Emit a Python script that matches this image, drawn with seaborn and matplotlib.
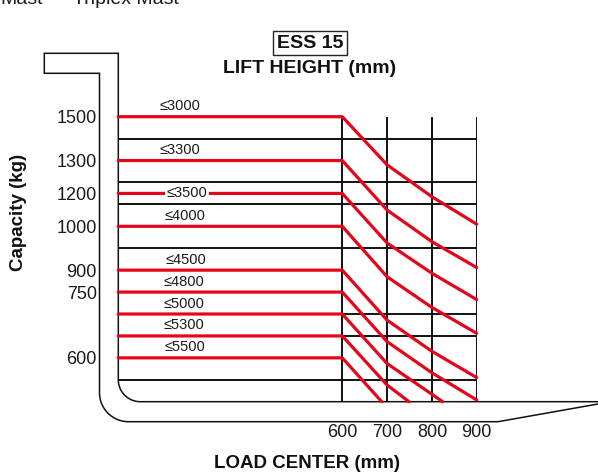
import numpy as np
import pandas as pd
import matplotlib.pyplot as plt
import seaborn as sns

# lift height bands, one red line each
lift_heights = ['≤3000', '≤3300', '≤3500', '≤4000', '≤4500', '≤4800', '≤5000', '≤5300', '≤5500']

# load center (mm) and capacity (kg) of every line
curve_x = [
    [100, 600, 700, 800, 900],
    [100, 600, 700, 800, 900],
    [100, 600, 700, 800, 900],
    [100, 600, 700, 800, 900],
    [100, 600, 700, 800, 900],
    [100, 600, 700, 800, 900],
    [100, 600, 700, 800, 824],
    [100, 600, 700, 749],
    [100, 600, 688],
]
curve_y = [
    [1500, 1500, 1287, 1180, 1013],
    [1300, 1300, 1099, 965, 906],
    [1200, 1200, 962, 879, 733],
    [1000, 1000, 855, 715, 656],
    [900, 900, 686, 615, 555],
    [750, 750, 637, 566, 504],
    [700, 700, 587, 517, 500],
    [650, 650, 538, 500],
    [600, 600, 500],
]

cap_ticks = [1500, 1300, 1200, 1000, 900, 750, 600]
x_ticks = [600, 700, 800, 900]

# the capacity axis of the diagram is uneven: grid row where each capacity sits
scale_caps = [0, 500, 600, 750, 900, 1000, 1200, 1300, 1500, 3500]
scale_rows = [23, 13, 11, 8, 7, 5, 3.5, 2, 0, -20]

RED = '#e3061a'

# long form table for seaborn
rows = []
for name, xs, ys in zip(lift_heights, curve_x, curve_y):
    for x, y in zip(xs, ys):
        rows.append({'lift': name, 'load_center': x, 'capacity': y})
df = pd.DataFrame(rows)

sns.set_theme(style='white')
plt.rcParams['font.family'] = ['Liberation Sans', 'DejaVu Sans']

W, H = 598, 474
fig = plt.figure(figsize=(W / 100, H / 100), dpi=100)
fig.patch.set_facecolor('white')

# pixel box of the grid
gx0, gx1, gy0, gy1 = 118.3, 476.7, 116.7, 401.7
ax = fig.add_axes([gx0 / W, 1 - gy1 / H, (gx1 - gx0) / W, (gy1 - gy0) / H])
ax.set_facecolor('none')

sns.lineplot(data=df, x='load_center', y='capacity', hue='lift', palette=[RED] * len(lift_heights),
             sort=False, estimator=None, legend=False, lw=2.3, ax=ax, zorder=3)
for line in ax.lines:
    line.set_clip_on(False)

rows_inc = scale_rows[::-1]
caps_dec = scale_caps[::-1]


def fwd(c):
    return -np.interp(np.asarray(c, float), scale_caps, scale_rows)


def inv(v):
    return np.interp(-np.asarray(v, float), rows_inc, caps_dec)


ax.set_yscale('function', functions=(fwd, inv))
ax.set_xlim(100, 900)
ax.set_ylim(500, 1500)

ax.set_xticks(x_ticks)
ax.set_yticks(cap_ticks)
ax.set_yticks(np.interp(np.arange(13), rows_inc, caps_dec), minor=True)
ax.set_yticklabels([str(c) for c in cap_ticks])
ax.yaxis.set_minor_formatter(plt.NullFormatter())
ax.tick_params(which='both', length=0)
ax.tick_params(axis='y', pad=15.5, labelsize=13, labelcolor='#1a1a1a')
ax.tick_params(axis='x', pad=16, labelsize=13, labelcolor='#1a1a1a')
ax.grid(False)
ax.grid(axis='y', which='minor', color='#111111', lw=1.4)
ax.grid(axis='x', which='major', color='#111111', lw=1.4)
ax.set_axisbelow(True)
for s in ax.spines.values():
    s.set_visible(False)

ax.set_xlabel('LOAD CENTER (mm)', fontsize=13.5, fontweight='bold', color='#111111')
ax.set_ylabel('Capacity (kg)', fontsize=13.5, fontweight='bold', color='#111111')
ax.xaxis.set_label_coords((307.5 - gx0) / (gx1 - gx0), (gy1 - 464) / (gy1 - gy0))
ax.yaxis.set_label_coords((18.3 - gx0) / (gx1 - gx0), (gy1 - 212.5) / (gy1 - gy0))
ax.xaxis.label.set_va('center')
ax.yaxis.label.set_va('center')

# lift height labels above their lines, the 1200 kg one sits on the line
label_x = [238, 238, 253, 249, 251, 247, 247, 247, 249]
for name, xs, ys, lx in zip(lift_heights, curve_x, curve_y, label_x):
    if name == '≤3500':
        ax.text(lx, ys[0], name, ha='center', va='center', fontsize=10.5, color='#1a1a1a', zorder=4,
                bbox=dict(boxstyle='square,pad=0.12', fc='white', ec='none'))
    else:
        ax.annotate(name, xy=(lx, ys[0]), xytext=(0, 2.5), textcoords='offset points',
                    ha='center', va='bottom', fontsize=10.5, color='#1a1a1a', zorder=4)

# forklift mast and fork outline, drawn in pixel space
ov = fig.add_axes([0, 0, 1, 1], zorder=-1)
ov.set_xlim(0, W)
ov.set_ylim(H, 0)
ov.axis('off')

t = np.linspace(0, np.pi / 2, 30)
ri, ro = 22.0, 29.0
inner_arc_x = (118.3 + ri) - ri * np.cos(t)
inner_arc_y = (401.7 - ri) + ri * np.sin(t)
outer_arc_x = (99.5 + ro) - ro * np.cos(t)
outer_arc_y = (421.7 - ro) + ro * np.sin(t)

px = np.concatenate([[598, 140.3], inner_arc_x[::-1], [118.3, 44.3, 44.3, 99.5],
                     outer_arc_x, [498, 598]])
py = np.concatenate([[401.7, 401.7], inner_arc_y[::-1], [53.3, 53.3, 73.3, 73.3],
                     outer_arc_y, [421.7, 404]])
ov.plot(px, py, color='#111111', lw=1.1, solid_joinstyle='miter')

ov.text(310, 68.3, 'LIFT HEIGHT (mm)', ha='center', va='center', fontsize=14,
        fontweight='bold', color='#111111')
ov.text(310, 43.3, 'ESS 15', ha='center', va='center', fontsize=14, fontweight='bold',
        color='#111111', bbox=dict(boxstyle='square,pad=0.18', fc='white', ec='#222222', lw=1))
ov.text(43, 4, 'Mast', ha='right', va='baseline', fontsize=14, color='#1a1a1a')
ov.text(73, 4, 'Triplex Mast', ha='left', va='baseline', fontsize=14, color='#1a1a1a')

fig.savefig('out.png', dpi=100, facecolor='white')
